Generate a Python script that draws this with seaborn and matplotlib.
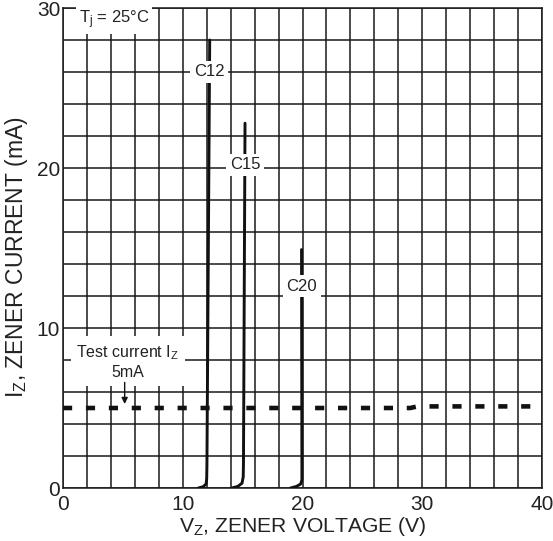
import matplotlib
matplotlib.use("Agg")
import matplotlib.pyplot as plt
import seaborn as sns
import pandas as pd
import numpy as np

# ---- data ----
c12_v = [11.3, 11.7, 11.95, 12.0, 12.02, 12.25]
c12_i = [0.0, 0.08, 0.25, 0.6, 1.5, 28.0]
c15_v = [14.1, 14.6, 14.95, 15.05, 15.07, 15.2]
c15_i = [0.0, 0.1, 0.3, 0.7, 1.5, 22.8]
c20_v = [19.0, 19.5, 19.85, 19.95, 19.95, 19.92]
c20_i = [0.0, 0.1, 0.25, 0.5, 1.5, 14.9]
test_v = [0.0, 29.0, 29.6, 39.3]
test_i = [5.0, 5.0, 5.1, 5.1]

labels = ["C12", "C15", "C20"]
label_pos = [(12.2, 26.0), (15.2, 20.2), (19.95, 12.6)]

x_ticks = [0, 10, 20, 30, 40]
y_ticks = [0, 10, 20, 30]

sns.set_theme(style="white")
plt.rcParams["font.family"] = ["Liberation Sans", "DejaVu Sans"]
plt.rcParams["mathtext.default"] = "regular"

fig = plt.figure(figsize=(5.53, 5.41), dpi=100)
ax = fig.add_axes([63 / 553, 1 - 488 / 541, 479 / 553, 480 / 541])

curves = pd.concat([
    pd.DataFrame({"v": c12_v, "i": c12_i, "dev": "C12"}),
    pd.DataFrame({"v": c15_v, "i": c15_i, "dev": "C15"}),
    pd.DataFrame({"v": c20_v, "i": c20_i, "dev": "C20"}),
], ignore_index=True)

for dev in labels:
    sub = curves[curves["dev"] == dev]
    sns.lineplot(data=sub, x="v", y="i", sort=False, estimator=None,
                 color="#111111", linewidth=2.1, ax=ax, zorder=3, legend=False)

test_df = pd.DataFrame({"v": test_v, "i": test_i})
sns.lineplot(data=test_df, x="v", y="i", sort=False, estimator=None,
             color="#111111", linewidth=3.3, ax=ax, zorder=3,
             linestyle=(0, (2.0, 3.0)), legend=False)

ax.set_xlim(0, 40)
ax.set_ylim(0, 30)
ax.set_xticks(np.arange(0, 41, 2))
ax.set_yticks(np.arange(0, 31, 2))
ax.set_xticklabels([str(v) if v in x_ticks else "" for v in range(0, 41, 2)])
ax.set_yticklabels([str(v) if v in y_ticks else "" for v in range(0, 31, 2)])
ax.tick_params(axis="both", length=0, labelsize=15, colors="#222222")
ax.tick_params(axis="x", pad=5)
ax.tick_params(axis="y", pad=2)
ax.grid(True, color="#1a1a1a", linewidth=1.1)
ax.set_axisbelow(True)
for s in ax.spines.values():
    s.set_color("#1a1a1a")
    s.set_linewidth(1.1)

ax.set_xlabel("V$_Z$, ZENER VOLTAGE (V)", fontsize=15.2, color="#222222", labelpad=0.5)
ax.set_ylabel("I$_Z$, ZENER CURRENT (mA)", fontsize=16.5, color="#222222")
ax.yaxis.set_label_coords(-0.068, 0.482)

box = dict(facecolor="white", edgecolor="none", pad=2.5)
for lab, (x, y) in zip(labels, label_pos):
    ax.text(x, y, lab, ha="center", va="center", fontsize=12, color="#222222",
            bbox=box, zorder=5)

ax.text(1.3, 29.25, "T$_j$ = 25°C", ha="left", va="center", fontsize=12,
        color="#222222", bbox=dict(facecolor="white", edgecolor="none", pad=2), zorder=5)

ax.text(5.4, 7.9, "Test current I$_Z$\n5mA", ha="center", va="center",
        fontsize=11.5, color="#222222", linespacing=1.3,
        bbox=dict(facecolor="white", edgecolor="none", pad=4), zorder=5)
ax.annotate("", xy=(5.15, 5.25), xytext=(5.15, 6.6),
            arrowprops=dict(arrowstyle="-|>", color="#111111", lw=1.0,
                            mutation_scale=9, shrinkA=0, shrinkB=0), zorder=6)

fig.savefig("out.png", dpi=100)
